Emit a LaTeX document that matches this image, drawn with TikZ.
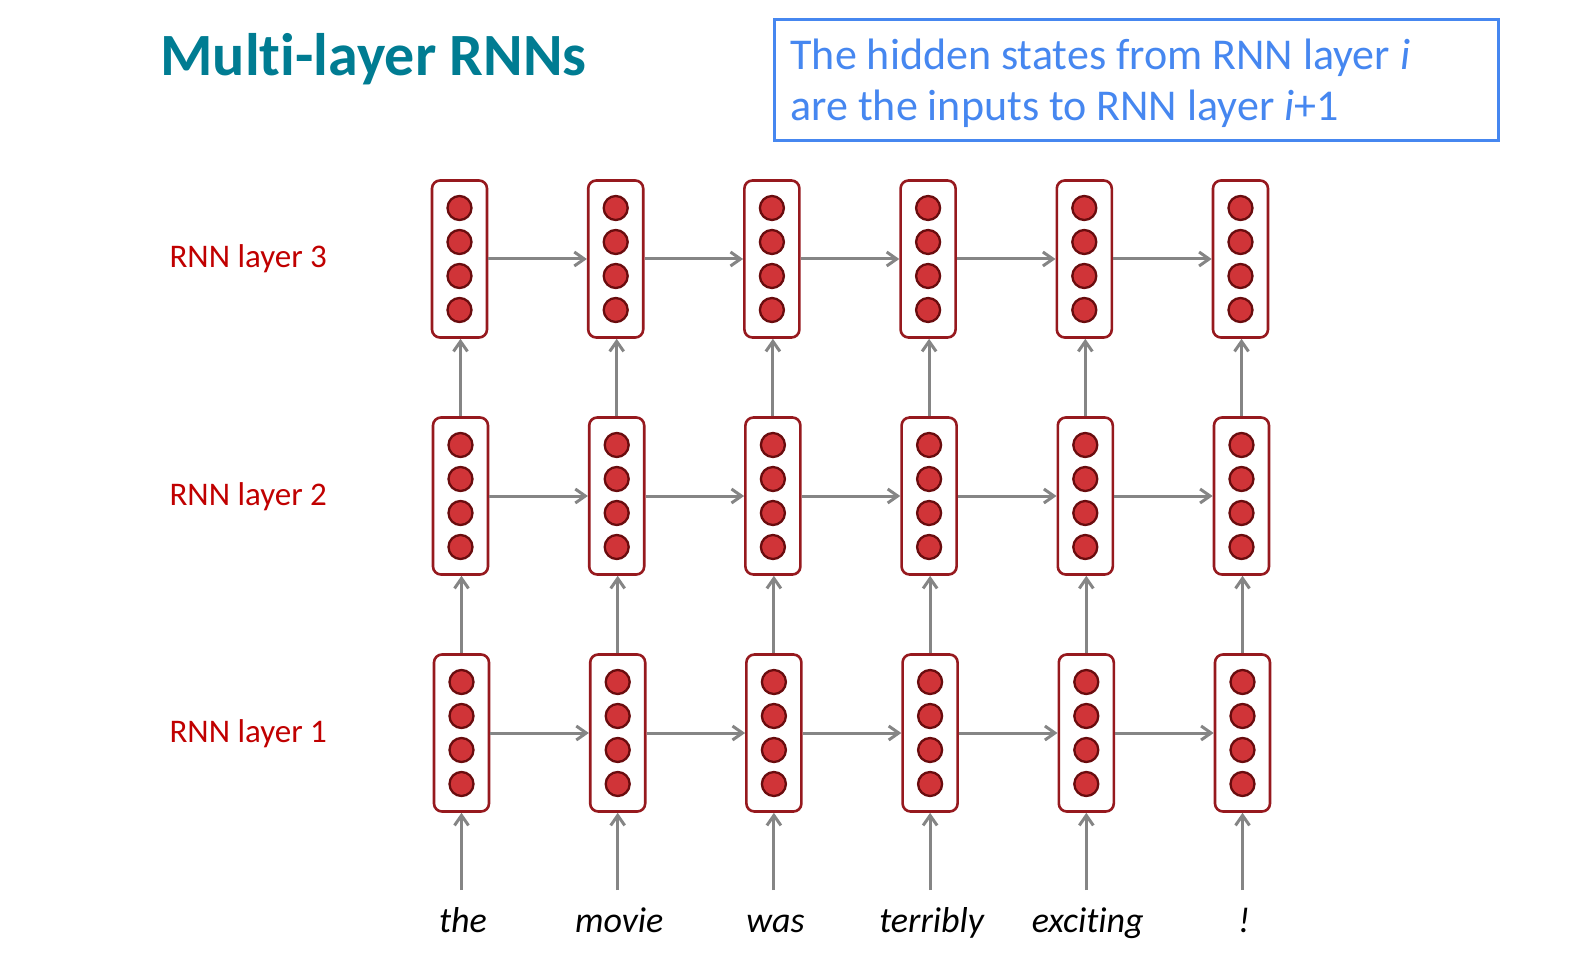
\documentclass[tikz,border=0pt]{standalone}
\usepackage{fontspec}
\setmainfont{Carlito}[Ligatures=NoCommon]
\usetikzlibrary{arrows.meta}
\definecolor{titleteal}{RGB}{0,124,146}
\definecolor{noteblue}{RGB}{70,135,240}
\definecolor{labelred}{RGB}{192,0,0}
\definecolor{cellred}{RGB}{150,25,30}
\definecolor{unitred}{RGB}{208,52,56}
\definecolor{unitdark}{RGB}{105,12,14}
\definecolor{linkgray}{RGB}{133,133,133}

\begin{document}
\begin{tikzpicture}[x=1pt,y=-1pt,
  cell/.style={draw=cellred,line width=2.6pt,rounded corners=8pt,fill=white,
    minimum width=55pt,minimum height=157pt,inner sep=0pt},
  unit/.style={circle,draw=unitdark,fill=unitred,line width=2.3pt,
    minimum size=24pt,inner sep=0pt},
  link/.style={draw=linkgray,line width=3pt,
    -{Straight Barb[length=10pt,width=14pt,line width=3pt]}},
  layerlabel/.style={text=labelred,font=\fontsize{33}{40}\selectfont,anchor=base west},
  word/.style={font=\itshape\fontsize{36}{43}\selectfont,anchor=base},
  notetext/.style={text=noteblue,font=\fontsize{44}{53}\selectfont,anchor=base west}]
\useasboundingbox (0,0) rectangle (1589,968);

% title and note
\node[text=titleteal,font=\bfseries\fontsize{60}{72}\selectfont,anchor=base west]
  (title) at (157,76) {Multi-layer RNNs};
\node[draw=noteblue,line width=3pt,minimum width=724pt,minimum height=121pt,inner sep=0pt]
  (note) at (1136,80.5) {};
\node[notetext] (noteA) at (787,70) {The hidden states from RNN layer \textit{i}};
\node[notetext] (noteB) at (787,121) {are the inputs to RNN layer \textit{i}+1};

% cells
\foreach \r/\y/\dx in {1/733/2,2/496/1,3/259/0} {
  \node[layerlabel] (lab\r) at (166,\y+9) {RNN layer \r};
  \foreach \i in {1,...,6} {
    \node[cell] (c\r\i) at ({459.5+156.2*(\i-1)+\dx},\y) {};
    \foreach \k in {1,...,4}
      \node[unit] (u\r\i\k) at ({459.5+156.2*(\i-1)+\dx},{\y+34*\k-85}) {};
  }
}

% recurrent links
\foreach \r in {1,2,3}
  \foreach \i/\j in {1/2,2/3,3/4,4/5,5/6}
    \draw[link] (c\r\i.east) -- (c\r\j.west);

% layer to layer
\foreach \r/\s in {1/2,2/3}
  \foreach \i in {1,...,6}
    \draw[link] (c\r\i.north) -- (c\r\i.north |- c\s\i.south);

% words
\foreach \w [count=\i] in {the,movie,was,terribly,exciting,!} {
  \coordinate (in\i) at ({461.5+156.2*(\i-1)},890);
  \node[word] (w\i) at ({463+156.2*(\i-1)},932) {\w};
  \draw[link] (in\i) -- (c1\i.south);
}
\end{tikzpicture}
\end{document}
